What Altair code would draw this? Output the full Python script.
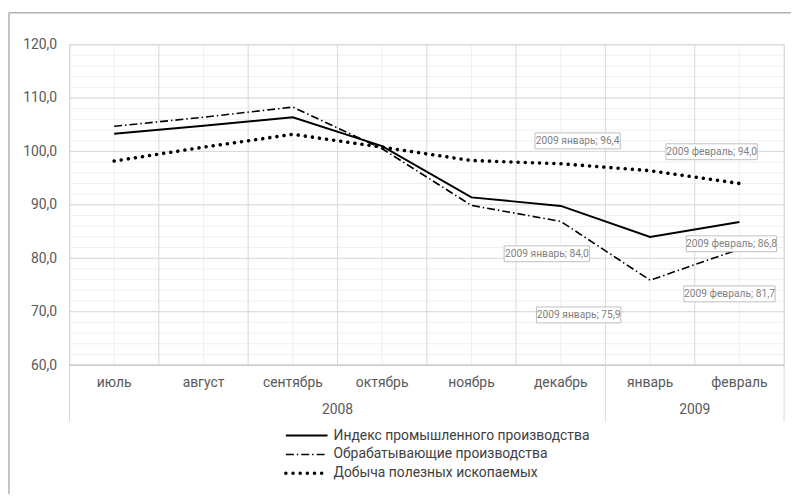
import altair as alt
import pandas as pd

months = ["июль", "август", "сентябрь", "октябрь", "ноябрь", "декабрь", "январь", "февраль"]
years = ["2008", "2008", "2008", "2008", "2008", "2008", "2009", "2009"]

series_names = [
    "Индекс промышленного производства",
    "Обрабатывающие производства",
    "Добыча полезных ископаемых",
]
index_vals = [103.3, 104.8, 106.4, 101.0, 91.4, 89.8, 84.0, 86.8]
manuf_vals = [104.7, 106.4, 108.3, 100.5, 89.9, 86.9, 75.9, 81.7]
mining_vals = [98.2, 100.8, 103.2, 100.8, 98.3, 97.7, 96.4, 94.0]

y_major = [60, 70, 80, 90, 100, 110, 120]
y_minor = [v for v in range(60, 121, 2)]

# data labels: (series, month)
labelled = [
    (series_names[2], "январь"),
    (series_names[2], "февраль"),
    (series_names[0], "январь"),
    (series_names[0], "февраль"),
    (series_names[1], "январь"),
    (series_names[1], "февраль"),
]
# label offsets in px (dx, dy) and box widths
label_style = [(-73, -30, 86), (-28, -32, 92), (-104, 17, 86), (-8, 22, 91), (-72, 35, 85), (-10, 45, 92)]

W, H = 720, 323
FONT = "Roboto"
AXIS_GREY = "#595959"

all_vals = [index_vals, manuf_vals, mining_vals]
rows = []
for s, vals in zip(series_names, all_vals):
    for i, (m, y, v) in enumerate(zip(months, years, vals)):
        rows.append({"series": s, "month": m, "year": y, "idx": i, "value": v})
df = pd.DataFrame(rows)

mdf = pd.DataFrame({"month": months, "year": years, "idx": list(range(len(months)))})
edges = pd.DataFrame({"e": [i - 0.5 for i in range(len(months) + 1)]})
ydf = mdf.groupby("year", as_index=False)["idx"].mean()
sep = pd.DataFrame({"e": [-0.5] + [mdf[mdf.year == y].idx.max() + 0.5 for y in sorted(set(years))]})

xs = alt.Scale(domain=[-0.5, len(months) - 0.5], nice=False, zero=False)
ys = alt.Scale(domain=[60, 120], nice=False, zero=False)

y_axis = alt.Axis(
    values=y_major,
    labelExpr="replace(format(datum.value, '.1f'), '.', ',')",
    grid=False,
    domain=False,
    ticks=False,
    labelPadding=13,
    labelFontSize=14,
    labelColor=AXIS_GREY,
    labelFont=FONT,
    title=None,
)


def X(f):
    return alt.X(f, type="quantitative", scale=xs, axis=None)


def Y(f):
    return alt.Y(f, type="quantitative", scale=ys, axis=y_axis, title=None)


minor_h = alt.Chart(pd.DataFrame({"v": y_minor})).mark_rule(color="#efefef", strokeWidth=1).encode(y=Y("v"))
minor_v = alt.Chart(mdf).mark_rule(color="#efefef", strokeWidth=1).encode(x=X("idx"))
major_v = alt.Chart(edges).mark_rule(color="#d9d9d9", strokeWidth=1).encode(x=X("e"))
major_h = alt.Chart(pd.DataFrame({"v": y_major})).mark_rule(color="#d9d9d9", strokeWidth=1).encode(y=Y("v"))

bottom_line = alt.Chart(pd.DataFrame({"v": [60]})).mark_rule(color="#d0d0d0", strokeWidth=2).encode(y=Y("v"))

sep_rules = alt.Chart(sep).mark_rule(color="#d9d9d9", strokeWidth=1).encode(
    x=X("e"), y=alt.value(H), y2=alt.value(H + 57)
)

month_text = alt.Chart(mdf).mark_text(fontSize=14, font=FONT, color=AXIS_GREY, baseline="middle").encode(
    x=X("idx"), y=alt.value(H + 18), text="month:N"
)
year_text = alt.Chart(ydf).mark_text(fontSize=14, font=FONT, color=AXIS_GREY, baseline="middle").encode(
    x=X("idx"), y=alt.value(H + 45), text="year:N"
)

styles = {
    series_names[0]: dict(strokeWidth=2),
    series_names[1]: dict(strokeWidth=1.6, strokeDash=[8, 3, 1.5, 3]),
    series_names[2]: dict(strokeWidth=3.6, strokeDash=[0.01, 7.2], strokeCap="round"),
}

lines = []
for s in series_names:
    lines.append(
        alt.Chart(df[df.series == s]).mark_line(color="black", **styles[s]).encode(x=X("idx"), y=Y("value"))
    )

labels = []
for (s, m), (dx, dy, bw) in zip(labelled, label_style):
    sub = df[(df.series == s) & (df.month == m)].copy()
    sub["txt"] = sub.apply(lambda r: f"{r.year} {r.month}; " + f"{r.value:.1f}".replace(".", ","), axis=1)
    box = alt.Chart(sub).mark_rect(
        width=bw, height=16, fill="white", stroke="#bfbfbf", strokeWidth=1, xOffset=dx, yOffset=dy
    ).encode(x=X("idx"), y=Y("value"))
    txt = alt.Chart(sub).mark_text(
        fontSize=10.3, font=FONT, color="#7f7f7f", dx=dx, dy=dy, baseline="middle", align="center"
    ).encode(x=X("idx"), y=Y("value"), text="txt:N")
    labels += [box, txt]

legend_layers = []
for k, s in enumerate(series_names):
    ly = H + 71 + k * 19
    legend_layers.append(
        alt.Chart(pd.DataFrame({"s": [s]})).mark_rule(color="black", **styles[s]).encode(
            x=alt.value(218), x2=alt.value(260), y=alt.value(ly)
        )
    )
    legend_layers.append(
        alt.Chart(pd.DataFrame({"s": [s]})).mark_text(
            fontSize=14, font=FONT, color="#404040", align="left", baseline="middle"
        ).encode(x=alt.value(266), y=alt.value(ly), text="s:N")
    )

frame = [
    alt.Chart(pd.DataFrame({"a": [0]})).mark_rule(color="#8c8c8c", strokeWidth=1).encode(
        x=alt.value(-61), x2=alt.value(W + 10), y=alt.value(-32)
    ),
    alt.Chart(pd.DataFrame({"a": [0]})).mark_rule(color="#8c8c8c", strokeWidth=1).encode(
        x=alt.value(-61), y=alt.value(-32), y2=alt.value(H + 140)
    ),
]

chart = alt.layer(
    minor_h, minor_v, major_v, major_h, bottom_line, sep_rules, month_text, year_text,
    *lines, *labels, *legend_layers, *frame
).properties(
    width=W,
    height=H,
    autosize=alt.AutoSizeParams(type="none"),
    padding={"left": 62, "top": 35, "right": 7, "bottom": 128},
).configure_view(stroke=None).configure(background="white")

chart.save("out.html", embed_options={"renderer": "svg", "actions": False})
